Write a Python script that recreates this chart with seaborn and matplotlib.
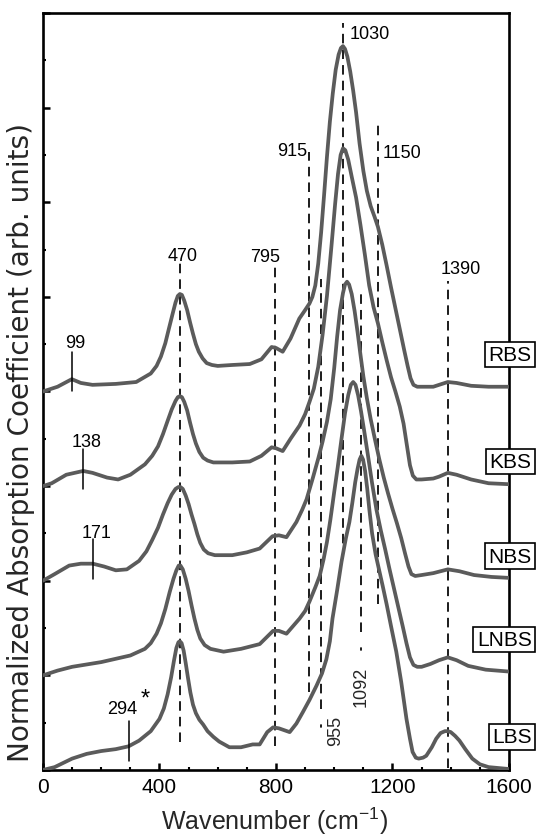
import numpy as np
import pandas as pd
import matplotlib
matplotlib.use("Agg")
import matplotlib.pyplot as plt
import seaborn as sns

# ---- spectra (normalized absorption vs wavenumber, before vertical offset) ----
samples = ["RBS", "KBS", "NBS", "LNBS", "LBS"]
offsets = [4, 3, 2, 1, 0]

rbs_wn = [0, 50, 99, 130, 170, 250, 320, 370, 390, 405, 420, 432, 445, 455, 463, 470, 477, 485,
          495, 505, 515, 525, 535, 548, 562, 580, 600, 650, 710, 750, 785, 800, 823, 850, 880,
          900, 915, 925, 935, 945, 955, 965, 975, 985, 995, 1005, 1015, 1023, 1030, 1037, 1045,
          1055, 1065, 1075, 1087, 1100, 1112, 1125, 1138, 1150, 1165, 1180, 1195, 1210, 1225,
          1240, 1252, 1262, 1272, 1285, 1300, 1340, 1360, 1390, 1420, 1470, 1530, 1600]
rbs_ab = [0.00, 0.05, 0.13, 0.09, 0.07, 0.08, 0.10, 0.19, 0.27, 0.37, 0.51, 0.66, 0.82, 0.94,
          1.01, 1.03, 1.02, 0.96, 0.86, 0.73, 0.61, 0.50, 0.42, 0.35, 0.30, 0.28, 0.27, 0.28,
          0.29, 0.34, 0.47, 0.46, 0.42, 0.56, 0.77, 0.86, 0.93, 1.00, 1.12, 1.35, 1.68, 2.07,
          2.48, 2.85, 3.15, 3.40, 3.56, 3.63, 3.65, 3.62, 3.54, 3.38, 3.18, 2.95, 2.62, 2.33,
          2.12, 1.96, 1.85, 1.74, 1.55, 1.33, 1.10, 0.88, 0.66, 0.44, 0.27, 0.14, 0.07, 0.05,
          0.05, 0.05, 0.07, 0.10, 0.09, 0.06, 0.05, 0.05]

kbs_wn = [0, 30, 80, 138, 170, 220, 258, 300, 350, 375, 395, 412, 428, 442, 455, 463, 470, 477,
          485, 495, 505, 515, 525, 537, 550, 565, 585, 650, 710, 750, 785, 800, 823, 850, 881,
          900, 915, 930, 945, 960, 975, 990, 1003, 1013, 1022, 1030, 1038, 1048, 1060, 1075,
          1090, 1105, 1120, 1135, 1150, 1165, 1180, 1195, 1210, 1225, 1238, 1250, 1260, 1270,
          1282, 1300, 1340, 1360, 1390, 1420, 1470, 1530, 1600]
kbs_ab = [0.00, 0.03, 0.12, 0.16, 0.14, 0.09, 0.07, 0.12, 0.23, 0.32, 0.42, 0.55, 0.69, 0.81,
          0.90, 0.94, 0.95, 0.94, 0.89, 0.80, 0.67, 0.55, 0.45, 0.36, 0.30, 0.27, 0.25, 0.25,
          0.26, 0.32, 0.41, 0.40, 0.37, 0.50, 0.64, 0.76, 0.89, 1.03, 1.26, 1.60, 2.01, 2.52,
          2.98, 3.30, 3.50, 3.57, 3.55, 3.45, 3.27, 3.05, 2.76, 2.45, 2.12, 1.89, 1.72, 1.52,
          1.33, 1.15, 1.00, 0.84, 0.66, 0.42, 0.22, 0.11, 0.07, 0.07, 0.08, 0.10, 0.14, 0.12,
          0.07, 0.03, 0.02]

nbs_wn = [0, 40, 90, 130, 171, 210, 250, 288, 330, 355, 375, 395, 412, 428, 442, 455, 465, 472,
          480, 490, 500, 510, 520, 530, 540, 552, 567, 590, 650, 700, 744, 788, 810, 836, 870,
          890, 905, 926, 945, 960, 975, 988, 1000, 1010, 1020, 1030, 1037, 1044, 1051, 1060,
          1070, 1080, 1090, 1100, 1112, 1125, 1140, 1155, 1170, 1185, 1200, 1215, 1230, 1243,
          1255, 1265, 1278, 1300, 1340, 1390, 1430, 1480, 1540, 1600]
nbs_ab = [0.00, 0.07, 0.16, 0.18, 0.18, 0.15, 0.11, 0.12, 0.21, 0.31, 0.43, 0.56, 0.70, 0.82,
          0.91, 0.97, 0.99, 0.99, 0.97, 0.90, 0.81, 0.70, 0.60, 0.49, 0.40, 0.33, 0.29, 0.27,
          0.27, 0.30, 0.34, 0.47, 0.48, 0.46, 0.62, 0.75, 0.86, 1.08, 1.29, 1.47, 1.68, 1.92,
          2.25, 2.58, 2.86, 3.04, 3.13, 3.16, 3.13, 3.03, 2.85, 2.63, 2.39, 2.16, 1.93, 1.71,
          1.49, 1.28, 1.09, 0.92, 0.76, 0.61, 0.45, 0.29, 0.15, 0.07, 0.05, 0.06, 0.08, 0.12,
          0.10, 0.06, 0.04, 0.03]

lnbs_wn = [0, 50, 100, 200, 300, 350, 370, 390, 405, 420, 435, 448, 458, 466, 472, 480, 490, 500,
           510, 520, 530, 540, 555, 575, 620, 680, 744, 790, 810, 836, 881, 900, 915, 935, 950,
           963, 975, 987, 1000, 1012, 1025, 1037, 1048, 1057, 1065, 1073, 1082, 1092, 1103, 1115,
           1130, 1145, 1160, 1175, 1190, 1205, 1220, 1235, 1248, 1260, 1272, 1285, 1300, 1330,
           1360, 1390, 1420, 1460, 1520, 1600]
lnbs_ab = [0.00, 0.05, 0.09, 0.14, 0.21, 0.28, 0.34, 0.44, 0.55, 0.70, 0.88, 1.02, 1.11, 1.16,
           1.16, 1.12, 1.02, 0.89, 0.74, 0.60, 0.48, 0.39, 0.32, 0.28, 0.25, 0.28, 0.33, 0.47,
           0.47, 0.44, 0.60, 0.68, 0.78, 0.93, 1.05, 1.22, 1.41, 1.65, 1.94, 2.20, 2.50, 2.77,
           2.96, 3.07, 3.10, 3.07, 2.96, 2.79, 2.58, 2.34, 2.03, 1.75, 1.53, 1.33, 1.12, 0.92,
           0.72, 0.52, 0.34, 0.19, 0.11, 0.09, 0.09, 0.12, 0.16, 0.19, 0.16, 0.10, 0.06, 0.04]

lbs_wn = [0, 40, 100, 150, 200, 250, 294, 330, 370, 400, 415, 428, 440, 450, 458, 465, 470, 476,
          483, 490, 498, 506, 515, 525, 537, 550, 565, 585, 605, 640, 680, 720, 744, 770, 790,
          810, 847, 870, 892, 915, 939, 958, 973, 985, 994, 1010, 1025, 1040, 1052, 1062, 1072,
          1080, 1087, 1093, 1099, 1106, 1113, 1121, 1130, 1142, 1155, 1166, 1180, 1195, 1213,
          1230, 1248, 1260, 1269, 1280, 1290, 1305, 1316, 1335, 1350, 1365, 1380, 1390, 1400,
          1415, 1430, 1450, 1474, 1500, 1530, 1600]
lbs_ab = [0.00, 0.03, 0.12, 0.17, 0.20, 0.22, 0.25, 0.31, 0.41, 0.54, 0.65, 0.80, 0.98, 1.16,
          1.29, 1.35, 1.36, 1.34, 1.26, 1.13, 0.97, 0.82, 0.69, 0.60, 0.53, 0.48, 0.41, 0.35,
          0.30, 0.24, 0.24, 0.27, 0.27, 0.40, 0.45, 0.44, 0.40, 0.49, 0.61, 0.74, 0.89, 1.02,
          1.17, 1.36, 1.60, 1.90, 2.20, 2.45, 2.62, 2.82, 3.04, 3.18, 3.28, 3.32, 3.28, 3.16,
          2.98, 2.74, 2.50, 2.28, 2.10, 1.95, 1.75, 1.52, 1.25, 0.93, 0.54, 0.33, 0.19, 0.13,
          0.12, 0.13, 0.15, 0.24, 0.33, 0.39, 0.41, 0.41, 0.40, 0.36, 0.31, 0.22, 0.12, 0.06,
          0.03, 0.01]

spectra_wn = [rbs_wn, kbs_wn, nbs_wn, lnbs_wn, lbs_wn]
spectra_ab = [rbs_ab, kbs_ab, nbs_ab, lnbs_ab, lbs_ab]

# ---- band assignments (dashed guides) ----
band_pos = [470, 795, 915, 955, 1030, 1092, 1150, 1390]
band_top = [5.37, 5.32, 6.53, 5.19, 7.89, 5.08, 6.83, 5.17]
band_bottom = [0.30, 0.25, 0.82, 0.64, 2.23, 1.46, 1.75, 0.02]

# low-frequency cation-motion bands (short solid markers)
cation_pos = [99, 138, 171, 294]
cation_labels = ["99", "138", "171", "294"]

# ---- style ----
sns.set_theme(style="ticks")
plt.rcParams["font.family"] = ["Liberation Sans", "DejaVu Sans"]
plt.rcParams["mathtext.default"] = "regular"

curve_color = "#5b5b5b"

fig = plt.figure(figsize=(5.36, 8.37), dpi=100)
ax = fig.add_axes([0.0802, 0.0789, 0.8694, 0.9044])

frames = []
for name, off, wn, ab in zip(samples, offsets, spectra_wn, spectra_ab):
    frames.append(pd.DataFrame({"sample": name,
                                "wavenumber": wn,
                                "signal": np.asarray(ab) + off}))
df = pd.concat(frames, ignore_index=True)

for name in samples:
    sub = df[df["sample"] == name]
    sns.lineplot(data=sub, x="wavenumber", y="signal", ax=ax, color=curve_color,
                 lw=2.7, sort=False, estimator=None, legend=False, zorder=3)
for ln in ax.get_lines():
    ln.set_solid_joinstyle("round")
    ln.set_solid_capstyle("round")

# dashed guides
for pos, top, bot in zip(band_pos, band_top, band_bottom):
    ax.plot([pos, pos], [bot, top], color="black", lw=1.25,
            linestyle=(0, (5.5, 3.5)), zorder=2)
# isolated dash ends below 955 and 1092
ax.plot([955, 955], [0.455, 0.475], color="black", lw=1.25, zorder=2)
ax.plot([1092, 1092], [1.27, 1.29], color="black", lw=1.25, zorder=2)

# solid markers for low-frequency bands
marker_spans = [(4.00, 4.42), (2.97, 3.39), (2.02, 2.44), (0.095, 0.52)]
for pos, (lo, hi) in zip(cation_pos, marker_spans):
    ax.plot([pos, pos], [lo, hi], color="black", lw=1.1, zorder=4)

fs_ann = 13
ann = [("1030", 1121, 7.78), ("915", 854, 6.55), ("1150", 1234, 6.53), ("470", 480, 5.44),
       ("795", 761, 5.43), ("1390", 1433, 5.30), ("99", 110, 4.52), ("138", 151, 3.47),
       ("171", 185, 2.51), ("294", 271, 0.645)]
for txt, x, y in ann:
    ax.text(x, y, txt, ha="center", va="center", fontsize=fs_ann, color="black", zorder=5)
ax.text(350, 0.76, "*", ha="center", va="center", fontsize=17, color="black", zorder=5)
ax.text(1004, 0.42, "955", ha="center", va="center", rotation=90, fontsize=fs_ann, zorder=5)
ax.text(1094, 0.89, "1092", ha="center", va="center", rotation=90, fontsize=fs_ann, zorder=5)

# sample tags on the right edge
tag_y = [4.39, 3.26, 2.26, 1.38, 0.35]
for name, y in zip(samples, tag_y):
    ax.text(1678, y, name, ha="right", va="center", fontsize=15, color="black", zorder=6,
            clip_on=False,
            bbox=dict(boxstyle="square,pad=0.16", fc="white", ec="black", lw=1.2))

ax.set_xlim(0, 1600)
ax.set_ylim(0, 8)
ax.set_xticks([0, 400, 800, 1200, 1600])
ax.set_xticks(np.arange(0, 1601, 100), minor=True)
ax.set_yticks(np.arange(0, 8.01, 1))
ax.set_yticks(np.arange(0, 8.01, 0.5), minor=True)
ax.set_yticklabels([])
ax.tick_params(axis="both", which="both", direction="in", colors="black")
ax.tick_params(axis="both", which="major", length=5, width=1.8)
ax.tick_params(axis="both", which="minor", length=2.5, width=1.5)
ax.tick_params(axis="x", which="both", labelsize=15, pad=5)
ax.tick_params(top=False, right=False, which="both")
for sp in ax.spines.values():
    sp.set_linewidth(1.9)
    sp.set_color("black")
ax.set_xlabel("")
ax.set_ylabel("")

fig.text(0.513, 0.0085, "Wavenumber (cm$^{-1}$)", ha="center", va="baseline", fontsize=18)

# y label: wide sans face, sized so it spans about 640 px of the axis height
ylab = fig.text(0.0385, 0.4719, "Normalized Absorption Coefficient (arb. units)",
                ha="center", va="center", rotation=90, fontsize=19,
                family=["DejaVu Sans"])
renderer = fig.canvas.get_renderer()
h = ylab.get_window_extent(renderer).height
ylab.set_fontsize(19 * 640.0 / h)

fig.savefig("out.png", dpi=100, facecolor="white")
